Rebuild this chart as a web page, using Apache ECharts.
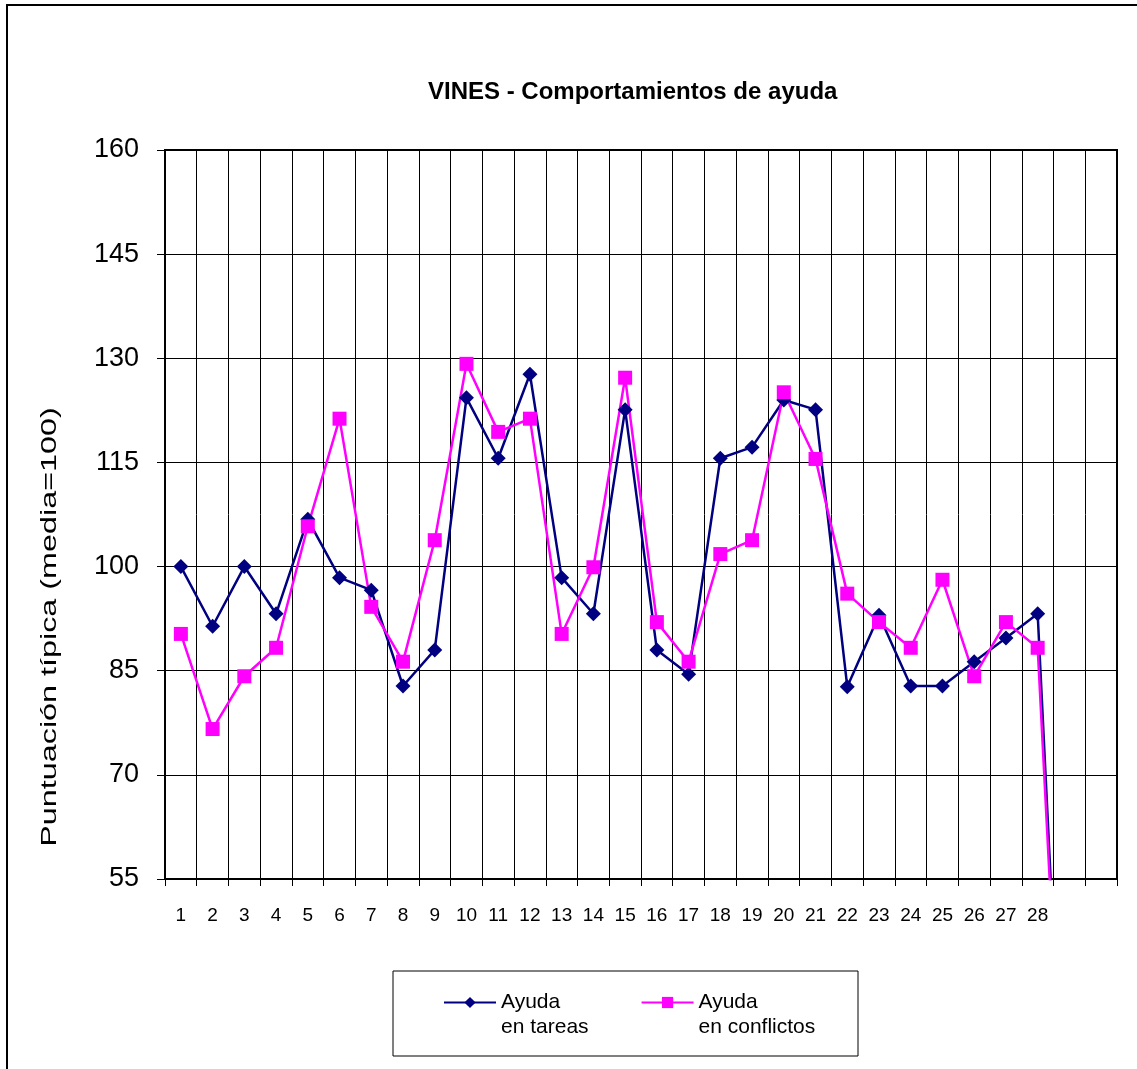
<!DOCTYPE html>
<html>

<head>
    <meta charset="UTF-8">
    <title>VINES - Comportamientos de ayuda</title>
    <script src="https://cdn.jsdelivr.net/npm/echarts@6/dist/echarts.min.js"></script>
    <style>
        html, body { margin: 0; padding: 0; background: #fff; }
        #chart { width: 1137px; height: 1069px; }
    </style>
</head>

<body>
    <div id="chart"></div>
    <script>
        // categorías (29 y 30 quedan vacías)
        const categorias = ['1', '2', '3', '4', '5', '6', '7', '8', '9', '10',
            '11', '12', '13', '14', '15', '16', '17', '18', '19', '20',
            '21', '22', '23', '24', '25', '26', '27', '28', '', ''];

        // Ayuda en tareas (el último valor cae a 0 y se recorta)
        const ayudaTareas = [100, 91.4, 100, 93.2, 106.8, 98.4, 96.6, 82.8, 88, 124.3,
            115.6, 127.7, 98.4, 93.2, 122.6, 88, 84.5, 115.6, 117.2, 124,
            122.6, 82.7, 93, 82.8, 82.8, 86.3, 89.7, 93.2, 0];

        // Ayuda en conflictos
        const ayudaConflictos = [90.3, 76.6, 84.2, 88.3, 105.8, 121.3, 94.2, 86.3, 103.8, 129.2,
            119.4, 121.3, 90.3, 99.9, 127.2, 92, 86.3, 101.8, 103.8, 125.1,
            115.5, 96.1, 92, 88.3, 98.1, 84.2, 92, 88.3, 0];

        const nombres = ['Ayuda\nen tareas', 'Ayuda\nen conflictos'];
        const fuente = '"Liberation Sans", Arial, sans-serif';

        const chart = echarts.init(document.getElementById('chart'));
        chart.setOption({
            animation: false,
            backgroundColor: '#fff',
            title: {
                text: 'VINES - Comportamientos de ayuda',
                left: 428,
                top: 80,
                padding: 0,
                textStyle: { fontFamily: fuente, fontSize: 24, fontWeight: 'bold', color: '#000' }
            },
            grid: {
                left: 165, right: 20, top: 150, bottom: 190,
                show: true, borderColor: '#000', borderWidth: 2
            },
            legend: {
                left: 443,
                top: 965,
                padding: 0,
                itemWidth: 52,
                itemHeight: 14,
                itemGap: 52,
                data: nombres,
                // línea vacía delante para que "Ayuda" quede a la altura del símbolo
                formatter: name => '\n' + name,
                textStyle: { fontFamily: fuente, fontSize: 21, color: '#000', lineHeight: 25 }
            },
            xAxis: {
                type: 'category',
                data: categorias,
                boundaryGap: true,
                axisLine: { lineStyle: { color: '#000', width: 2 } },
                axisTick: { show: true, interval: 0, length: 7, lineStyle: { color: '#000' } },
                axisLabel: { interval: 0, margin: 27, fontFamily: fuente, fontSize: 19, color: '#000' },
                splitLine: { show: true, interval: 0, lineStyle: { color: '#000', width: 1 } }
            },
            yAxis: {
                type: 'value',
                min: 55,
                max: 160,
                interval: 15,
                axisLine: { show: true, lineStyle: { color: '#000', width: 2 } },
                axisTick: { show: true, length: 8, lineStyle: { color: '#000' } },
                axisLabel: { margin: 26, fontFamily: fuente, fontSize: 27, color: '#000' },
                splitLine: { show: true, lineStyle: { color: '#000', width: 1 } }
            },
            graphic: [
                {
                    type: 'rect',
                    silent: true,
                    shape: { x: 7, y: 5, width: 1400, height: 1400 },
                    style: { fill: 'none', stroke: '#000', lineWidth: 2 }
                },
                {
                    type: 'rect',
                    silent: true,
                    shape: { x: 393, y: 971, width: 465, height: 85 },
                    style: { fill: 'none', stroke: '#000', lineWidth: 1 }
                },
                {
                    type: 'text',
                    silent: true,
                    x: 50,
                    y: 627,
                    rotation: Math.PI / 2,
                    scaleX: 1.47,
                    style: {
                        text: 'Puntuación típica (media=100)',
                        font: '22px ' + fuente,
                        fill: '#000',
                        align: 'center',
                        verticalAlign: 'middle',
                        textAlign: 'center',
                        textVerticalAlign: 'middle'
                    }
                }
            ],
            series: [
                {
                    name: nombres[0],
                    type: 'line',
                    data: ayudaTareas,
                    symbol: 'diamond',
                    symbolSize: 15,
                    color: '#000080',
                    lineStyle: { color: '#000080', width: 2.5 },
                    itemStyle: { color: '#000080' }
                },
                {
                    name: nombres[1],
                    type: 'line',
                    data: ayudaConflictos,
                    symbol: 'rect',
                    symbolSize: 14,
                    color: '#ff00ff',
                    lineStyle: { color: '#ff00ff', width: 2.5 },
                    itemStyle: { color: '#ff00ff' }
                }
            ]
        });
    </script>
</body>

</html>
